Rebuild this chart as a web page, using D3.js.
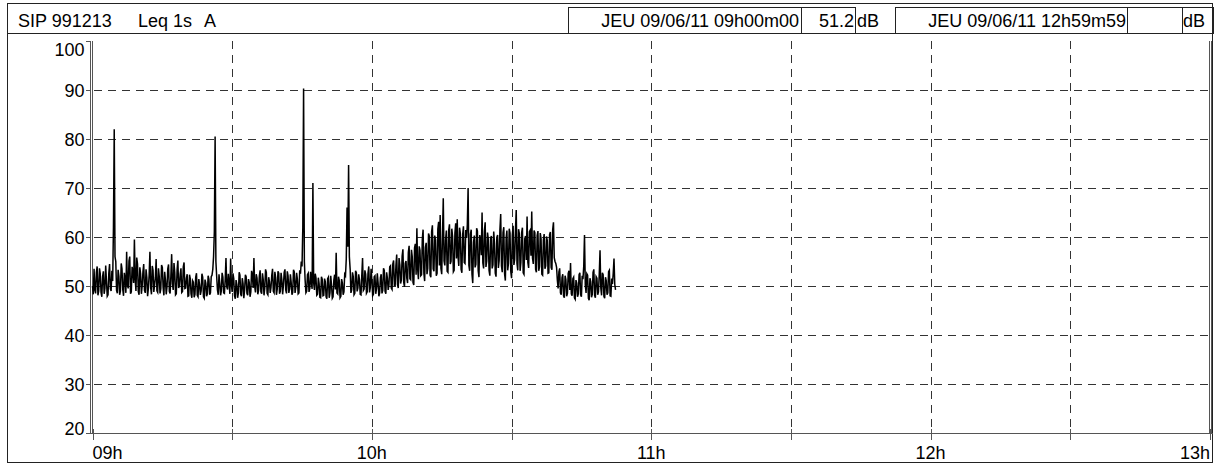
<!DOCTYPE html>
<html>
<head>
<meta charset="utf-8">
<script src="https://cdn.jsdelivr.net/npm/d3@7"></script>
<style>
body{margin:0;background:#fff;}
text{font-family:"Liberation Sans",Arial,sans-serif;font-size:18px;fill:#000;}
.frame{fill:none;stroke:#222;stroke-width:1;shape-rendering:crispEdges;}
.grid{stroke:#333;stroke-width:1;stroke-dasharray:8,6;shape-rendering:crispEdges;}
.axisLine{stroke:#555;stroke-width:1;shape-rendering:crispEdges;}
.trace{fill:none;stroke:#000;stroke-width:1.5;}
</style>
</head>
<body>
<script>
(function(){

//recording start and sampling step of the values below
var startTime = new Date(2011, 5, 9, 9, 0, 0);
var stepSeconds = 10;

//Leq 1s A levels (dB), one value every 10 s from 09h00m00 (5 min per row)
var levels = [
    50, 48.3, 53.5, 49.2, 48.5, 52.8, 54, 48.1, 49, 53.6, 52.5, 48.7, 47.8, 51.9, 53, 48.4, 49.5, 54.2, 51, 47.9, 48.2, 52.6, 54.5, 49.4, 49, 53.1, 51, 62, 82, 56,
    55, 49.1, 48.5, 53.3, 52, 48.2, 49, 54.6, 53.5, 49.3, 48, 52.7, 51.5, 48.6, 57, 50.2, 49.5, 55.1, 56, 48.4, 48.8, 53.9, 53, 50.6, 59.5, 51.4, 49, 55.8, 54.5, 48.9,
    48.2, 53.8, 52.5, 48.4, 50, 52.9, 54.5, 49.1, 48.6, 53.4, 51.8, 47.9, 49.5, 52.3, 57, 49.6, 48.3, 54.1, 53.2, 48.8, 50.2, 51.7, 55.5, 49, 48.7, 53.6, 52, 48.5, 49.4, 54.3,
    53.8, 49.7, 48.1, 52.9, 51.2, 48.3, 49.8, 53.5, 54.4, 48.9, 48.5, 52.1, 56.5, 50.4, 49.2, 54.7, 52.8, 48.2, 48.4, 53.3, 55.2, 49.6, 50.1, 52.4, 53.6, 48.7, 48.9, 53.9, 54.8, 49.5,
    49.6, 51.6, 52.4, 47.9, 48, 52.3, 51.5, 48.4, 47.6, 51.1, 50.8, 47.7, 48.3, 51.8, 52.6, 48.1, 47.8, 51.4, 50.2, 48.2, 49, 52.5, 51.8, 47.8, 47.5, 51.3, 50.6, 47.9, 48.4, 52.1,
    51.4, 48.2, 48.6, 51.9, 52.2, 53.4, 56, 61, 80.5, 55, 52, 49.2, 48.2, 52.4, 50.6, 48.1, 49, 52.7, 51.8, 48.6, 48.5, 51.3, 55.7, 49.8, 49.3, 52.5, 50.8, 48.4, 55.6, 50.2,
    48.8, 52.6, 51.5, 48, 47.4, 51.2, 50.3, 47.6, 48.6, 52.8, 52.2, 48.3, 47.9, 51.6, 50.5, 47.5, 49.2, 52.3, 51.9, 48.5, 48.1, 51.4, 50.7, 47.8, 48.8, 53.1, 52.4, 49.6, 55.7, 49.9,
    48.7, 52.4, 51.6, 48.3, 49.1, 52.1, 53.2, 48.8, 48.4, 52.6, 51.3, 48.1, 49.6, 53.4, 52.8, 48.5, 48.2, 51.8, 50.9, 48.6, 49.7, 52.2, 53.5, 48.9, 48.6, 52.9, 51.7, 48.2, 49.3, 53,
    52.6, 48.4, 48.9, 52.7, 51.2, 48.3, 50.1, 52.8, 53.4, 49.2, 48.5, 53, 52.1, 48.6, 49.4, 52.4, 50.8, 48.2, 48.7, 53.3, 52.9, 48.6, 49.8, 52.7, 51.4, 48.4, 48.6, 53.2, 52.5, 55,
    54, 62, 90.3, 55, 51.2, 48.6, 48.9, 52.3, 52.6, 48.8, 49.5, 52.9, 50.7, 49.4, 71, 50.6, 49.2, 52.5, 51.6, 48.1, 48.3, 51.7, 50.5, 47.7, 47.6, 51.9, 51.4, 48, 48.1, 51.5,
    50.9, 47.8, 47.4, 51.5, 51.8, 47.6, 48.6, 52.1, 50.2, 47.5, 47.8, 51.2, 52.3, 49.3, 56.8, 48.6, 48.4, 51.9, 51.1, 47.6, 47.9, 51.4, 50.6, 48.2, 48.8, 52.4, 52.1, 55.5, 66, 58,
    74.7, 56, 53.5, 48.6, 49.2, 52.8, 51.9, 48.2, 48.5, 53.1, 52.7, 48.9, 49.6, 52.4, 51.3, 48.3, 48.2, 52.2, 55.7, 49.1, 49.4, 53.2, 52.4, 48.5, 48.8, 52.6, 54, 48.7, 49.7, 53.5,
    51.2, 48, 48.3, 51.9, 52.1, 48.4, 49.5, 52.6, 50.7, 47.9, 48.6, 51.7, 52.4, 48.5, 49.1, 53.6, 53.2, 48.9, 48.4, 52.8, 51.6, 49.2, 50.2, 53.9, 54.1, 49.6, 49.3, 54.5, 55.2, 50.1,
    50.1, 54.2, 56.4, 50.3, 49.6, 55.7, 54.3, 50.5, 51.2, 56.1, 57.5, 50.8, 49.8, 54.6, 55.1, 51.6, 50.6, 56.9, 58.2, 51.5, 51.3, 57.4, 56, 50.7, 50.2, 57.8, 58.6, 52.3, 61.8, 53.4,
    51.4, 58.1, 57.3, 52.1, 52.3, 59.6, 61.5, 52.6, 51, 57.9, 58.8, 52.4, 53.6, 60.7, 60.2, 52.2, 51.8, 61.1, 62.4, 53.5, 53, 60.3, 59.4, 52.1, 52.6, 61.6, 63.1, 54.2, 64.5, 53.6,
    52.4, 60.2, 67.9, 55.1, 54.2, 59.5, 61.3, 53, 52.8, 61.4, 62.6, 54.5, 55, 61.7, 60.1, 52.9, 53.2, 60.8, 62.8, 55.6, 63.6, 56.1, 54.1, 61.9, 60.7, 53.4, 52.7, 60.5, 62.2, 54.8,
    54.6, 61.4, 59.8, 62.5, 70, 54.2, 53.1, 60.6, 61.5, 52.4, 50.6, 58.9, 60.3, 53.8, 54.4, 61.8, 61.2, 53.1, 51.8, 60.4, 59.5, 56.3, 65, 54.7, 53.6, 61.2, 63, 53.9, 55.1, 60.9,
    59.6, 53.2, 52.1, 59.7, 60.2, 53.6, 54.3, 61.1, 58.8, 52.6, 51.9, 59.9, 60.4, 53.7, 55.2, 61.5, 64.7, 54.1, 52.8, 60.9, 62, 52.5, 51.1, 59.8, 61.3, 53.2, 54.6, 61.7, 60.8, 52.9,
    51.6, 60.4, 62.3, 54.3, 55.4, 61.2, 65.5, 54.6, 53.2, 61.6, 60.7, 53.1, 54.8, 60.9, 61.9, 52.7, 52.4, 59.6, 60.2, 55.3, 64.2, 54.8, 53.7, 61.1, 61.4, 56.2, 65.2, 55.7, 54.5, 61.3,
    60.9, 53.4, 52.8, 60.3, 61.2, 53.1, 53.9, 60.8, 59.7, 52.4, 52.2, 59.4, 60.6, 53.5, 54.1, 60.1, 59.3, 52.6, 52.7, 60.5, 61, 53.8, 53.3, 61.5, 63, 55.8, 55, 54.6, 53.8, 51.2,
    49.5, 52.9, 53.6, 48.6, 48.2, 51.7, 52.4, 48, 47.6, 52.1, 51.3, 47.9, 48.5, 52.6, 53.1, 49.2, 54.7, 48.4, 48, 51.5, 51.8, 47.6, 47.3, 51.2, 50.6, 47.8, 48.4, 52.3, 52.7, 48.2,
    47.8, 52.1, 51.4, 54, 60.4, 50.2, 48.6, 52.5, 52.2, 47.5, 47.1, 51.6, 50.9, 47.7, 48.3, 52.8, 53.4, 48.1, 47.6, 51.9, 51.6, 48.2, 48.8, 52.4, 57.3, 49.6, 48.1, 52.7, 52.3, 47.9,
    47.5, 51.8, 51.1, 48.2, 48.6, 52.9, 53.2, 48, 47.9, 51.5, 50.4, 52.6, 55.6, 50.3, 49.2
];

//axis ticks and labels
var yTicks = [20, 30, 40, 50, 60, 70, 80, 90, 100];
var xTickHours = [9, 10, 11, 12, 13];
var xTickLabels = ["09h", "10h", "11h", "12h", "13h"];

//header texts
var headerTitle = ["SIP 991213", "Leq 1s", "A"];
var headerStart = "JEU 09/06/11 09h00m00";
var headerStartValue = "51.2";
var headerEnd = "JEU 09/06/11 12h59m59";
var headerEndValue = "";
var headerUnit = "dB";

window.onload = setChart();

function setChart(){
    var width = 1220,
        height = 466;

    var svg = d3.select("body")
        .append("svg")
        .attr("width", width)
        .attr("height", height);

    //outer frame and header band
    svg.append("rect")
        .attr("class", "frame")
        .attr("x", 7.5)
        .attr("y", 3.5)
        .attr("width", 1205)
        .attr("height", 459);
    svg.append("line")
        .attr("class", "frame")
        .attr("x1", 7).attr("x2", 1213)
        .attr("y1", 33.5).attr("y2", 33.5);

    setHeader(svg);

    var x = d3.scaleTime()
        .domain([hourDate(9), hourDate(13)])
        .range([92.5, 1210]);

    var y = d3.scaleLinear()
        .domain([20, 100])
        .range([433, 41]);

    setGrid(svg, x, y);
    setAxes(svg, x, y);

    //build the series
    var data = levels.map(function(v, i){
        return {time: new Date(startTime.getTime() + i * stepSeconds * 1000), value: v};
    });

    var line = d3.line()
        .x(function(d){ return x(d.time); })
        .y(function(d){ return y(d.value); });

    svg.append("path")
        .datum(data)
        .attr("class", "trace")
        .attr("d", line);
};

function hourDate(h){
    return new Date(2011, 5, 9, h, 0, 0);
};

function setHeader(svg){
    //title on the left
    svg.append("text").attr("x", 18).attr("y", 27).text(headerTitle[0]);
    svg.append("text").attr("x", 138).attr("y", 27).text(headerTitle[1]);
    svg.append("text").attr("x", 204).attr("y", 27).text(headerTitle[2]);

    //boxed start / end fields
    var boxes = [
        [568, 800.5], [800.5, 855], [895, 1126.5], [1126.5, 1181.5], [1181.5, 1213]
    ];
    boxes.forEach(function(b){
        svg.append("rect")
            .attr("class", "frame")
            .attr("x", b[0] + 0.5)
            .attr("y", 7.5)
            .attr("width", b[1] - b[0])
            .attr("height", 26);
    });

    svg.append("text").attr("x", 799).attr("y", 27).attr("text-anchor", "end").text(headerStart);
    svg.append("text").attr("x", 854).attr("y", 27).attr("text-anchor", "end").text(headerStartValue);
    svg.append("text").attr("x", 857).attr("y", 27).text(headerUnit);
    svg.append("text").attr("x", 1126).attr("y", 27).attr("text-anchor", "end").text(headerEnd);
    svg.append("text").attr("x", 1180).attr("y", 27).attr("text-anchor", "end").text(headerEndValue);
    svg.append("text").attr("x", 1183).attr("y", 27).text(headerUnit);
};

function setGrid(svg, x, y){
    var halfHours = d3.timeMinute.every(30).range(hourDate(9), hourDate(13));

    //horizontal dashed lines
    svg.selectAll(".hgrid")
        .data(yTicks.slice(1, -1))
        .enter()
        .append("line")
        .attr("class", "grid")
        .attr("x1", x.range()[0] + 1)
        .attr("x2", x.range()[1])
        .attr("y1", function(d){ return Math.round(y(d)) + 0.5; })
        .attr("y2", function(d){ return Math.round(y(d)) + 0.5; });

    //vertical dashed lines every half hour
    svg.selectAll(".vgrid")
        .data(halfHours.slice(1))
        .enter()
        .append("line")
        .attr("class", "grid")
        .attr("x1", function(d){ return Math.round(x(d)) + 0.5; })
        .attr("x2", function(d){ return Math.round(x(d)) + 0.5; })
        .attr("y1", y(100))
        .attr("y2", y(20));
};

function setAxes(svg, x, y){
    var x0 = x.range()[0], x1 = x.range()[1];

    //double vertical lines on both sides of the plot
    [x0 - 2.5, x0 - 0.5, x1 - 1.5, x1 + 0.5].forEach(function(px){
        svg.append("line")
            .attr("class", "axisLine")
            .attr("x1", Math.round(px) + 0.5).attr("x2", Math.round(px) + 0.5)
            .attr("y1", y(100)).attr("y2", y(20) + 1);
    });

    //horizontal time axis line
    svg.append("line")
        .attr("class", "axisLine")
        .attr("x1", x0 - 3).attr("x2", 1213)
        .attr("y1", 433.5).attr("y2", 433.5);

    //time ticks every half hour
    var ticks = d3.timeMinute.every(30).range(hourDate(9), new Date(2011, 5, 9, 13, 1));
    svg.selectAll(".xtick")
        .data(ticks)
        .enter()
        .append("line")
        .attr("class", "axisLine")
        .attr("x1", function(d){ return Math.round(x(d)) + 0.5; })
        .attr("x2", function(d){ return Math.round(x(d)) + 0.5; })
        .attr("y1", 429)
        .attr("y2", 440);

    svg.selectAll(".xlabel")
        .data(xTickHours)
        .enter()
        .append("text")
        .attr("x", function(d){ return x(hourDate(d)); })
        .attr("y", 459)
        .attr("text-anchor", function(d, i){
            return i == 0 ? "start" : (i == xTickHours.length - 1 ? "end" : "middle");
        })
        .text(function(d, i){ return xTickLabels[i]; });

    //level ticks and labels
    var yAxis = d3.axisLeft(y)
        .tickValues(yTicks)
        .tickSize(5)
        .tickPadding(1)
        .tickFormat(d3.format("d"));

    var axis = svg.append("g")
        .attr("transform", "translate(" + (x0 - 2) + ",0)")
        .call(yAxis);
    axis.select(".domain").remove();
    axis.selectAll("line").attr("stroke", "#555").attr("shape-rendering", "crispEdges");
    axis.selectAll("text")
        .attr("font-size", null)
        .attr("font-family", null)
        .attr("dy", function(d){
            return d == 100 ? "0.8em" : (d == 20 ? "0.1em" : "0.35em");
        });
    axis.attr("font-size", null).attr("font-family", null);
};

})();
</script>
</body>
</html>
